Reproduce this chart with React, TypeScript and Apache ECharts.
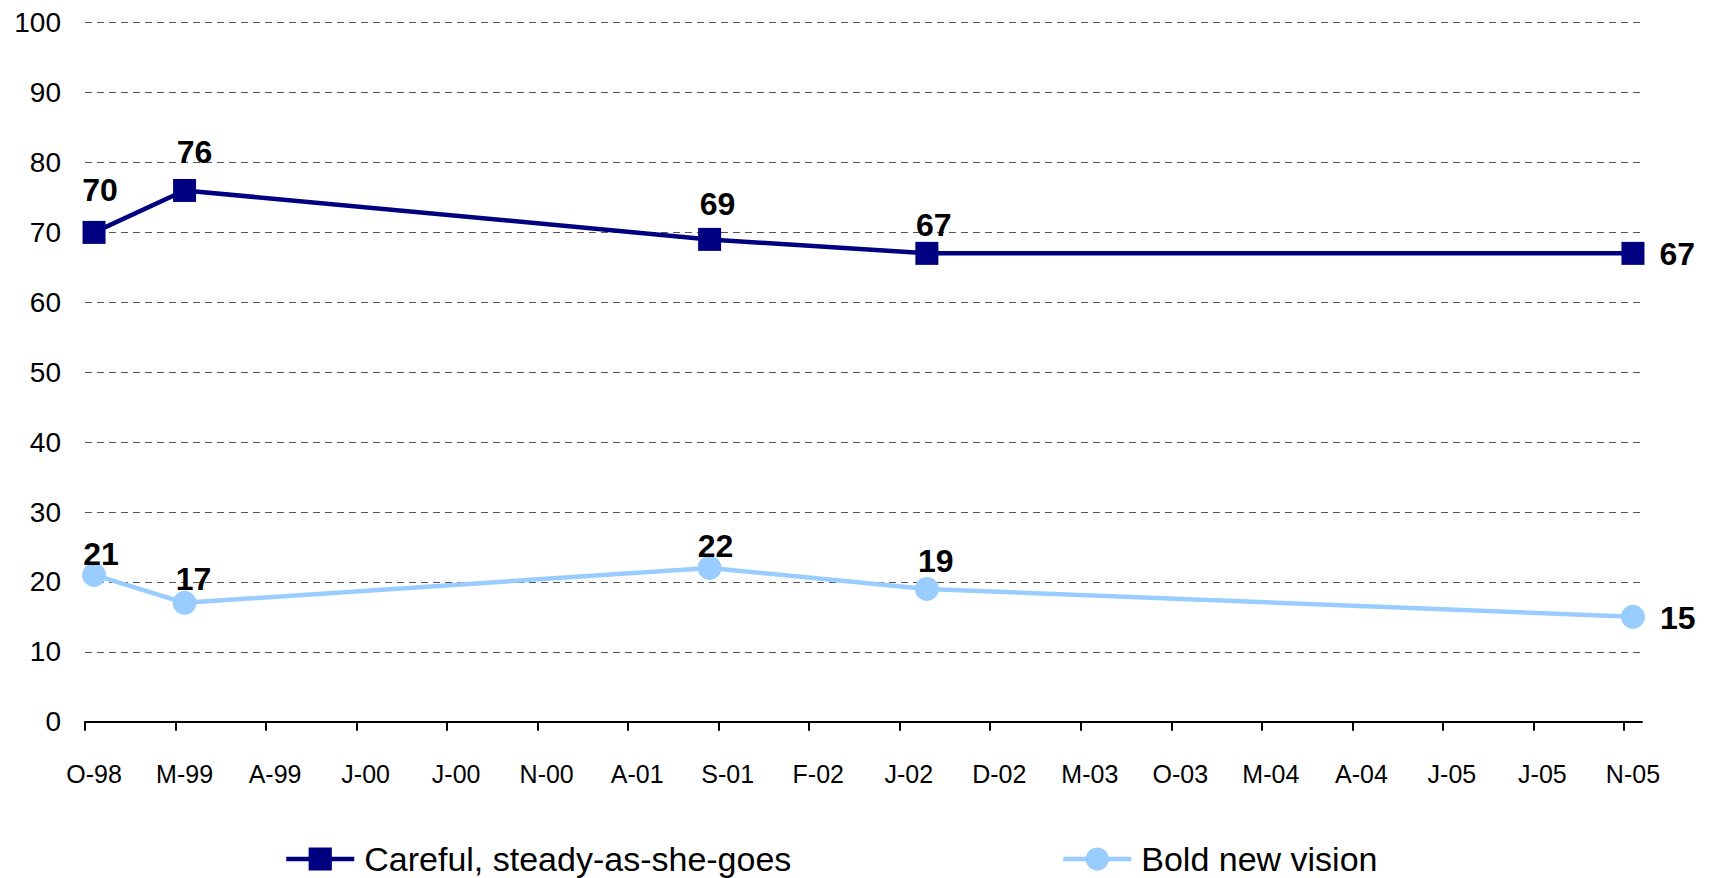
import { useEffect, useRef } from "react";
import * as echarts from "echarts";

// Axis tick labels (every 5 months, starting Oct 1998)
const tickLabels = [
  "O-98", "M-99", "A-99", "J-00", "J-00", "N-00", "A-01", "S-01", "F-02",
  "J-02", "D-02", "M-03", "O-03", "M-04", "A-04", "J-05", "J-05", "N-05",
];
// Survey months (year-month)
const surveyMonths = ["1998-10", "1999-03", "2001-08", "2002-08", "2005-11"];
const carefulValues = [70, 76, 69, 67, 67];
const boldValues = [21, 17, 22, 19, 15];
const seriesNames = ["Careful, steady-as-she-goes", "Bold new vision"];

// label nudges (style only)
const carefulNudge = [[6, -15], [10, -11], [8, -8], [7, -1], null];
const boldNudge = [[7, 7], [9, 4], [6, 6], [9, 0], null];

const FONT = "Arial, 'Liberation Sans', sans-serif";
const ORIGIN_Y = 1998;
const ORIGIN_M = 10;
const monthPos = (s: string) => {
  const [y, m] = s.split("-").map(Number);
  return (y - ORIGIN_Y) * 12 + (m - ORIGIN_M) + 0.5;
};
const xs = surveyMonths.map(monthPos);
const tickVals = tickLabels.map((_, i) => i * 5);
const labelVals = tickLabels.map((_, i) => i * 5 + 0.5);

function buildData(vals: number[], nudges: (number[] | null)[]) {
  return vals.map((v, i) => {
    const n = nudges[i];
    const label = n
      ? { position: "top", distance: 0, offset: n }
      : { position: "right", distance: 15, offset: [0, 1] };
    return { value: [xs[i], v], label };
  });
}

export default function App() {
  const ref = useRef<HTMLDivElement>(null);
  useEffect(() => {
    if (!ref.current) return;
    const chart = echarts.init(ref.current, undefined, { renderer: "svg" });
    const labelStyle = {
      show: true,
      fontFamily: FONT,
      fontSize: 32,
      fontWeight: "bold",
      color: "#000",
      lineHeight: 32,
    };
    const legendBase = {
      top: 842,
      padding: 0,
      itemWidth: 68,
      itemHeight: 29,
      lineStyle: { width: 4.5 },
      textStyle: {
        fontFamily: FONT,
        fontSize: 34,
        color: "#000",
        lineHeight: 30,
        padding: [0, 0, 0, 5],
      },
    };
    chart.setOption({
      animation: false,
      backgroundColor: "#fff",
      textStyle: { fontFamily: FONT },
      grid: { left: 85, right: 69, top: 22.7, bottom: 156.3 },
      legend: [
        { ...legendBase, left: 284, data: [seriesNames[0]] },
        { ...legendBase, left: 1061, data: [seriesNames[1]] },
      ],
      xAxis: {
        type: "value",
        min: 0,
        max: 86,
        interval: 5,
        splitLine: { show: false },
        axisLine: { show: true, lineStyle: { color: "#000", width: 2 } },
        axisTick: {
          show: true,
          customValues: tickVals,
          length: 9,
          lineStyle: { color: "#000", width: 2 },
        },
        axisLabel: {
          customValues: labelVals,
          formatter: (v: number) => tickLabels[Math.floor(v / 5)] ?? "",
          fontFamily: FONT,
          fontSize: 25,
          color: "#000",
          margin: 40,
        },
      },
      yAxis: {
        type: "value",
        min: 0,
        max: 100,
        interval: 10,
        axisLine: { show: false },
        axisTick: { show: false },
        axisLabel: { fontFamily: FONT, fontSize: 28, color: "#000", margin: 24 },
        splitLine: {
          show: true,
          lineStyle: { color: "#555", width: 1, type: [7, 5] },
        },
      },
      series: [
        {
          name: seriesNames[0],
          type: "line",
          symbol: "rect",
          symbolSize: 23,
          color: "#000080",
          lineStyle: { color: "#000080", width: 4.5 },
          itemStyle: { color: "#000080" },
          label: labelStyle,
          data: buildData(carefulValues, carefulNudge),
          z: 3,
        },
        {
          name: seriesNames[1],
          type: "line",
          symbol: "circle",
          symbolSize: 24,
          color: "#99CCFF",
          lineStyle: { color: "#99CCFF", width: 4.5 },
          itemStyle: { color: "#99CCFF" },
          label: labelStyle,
          data: buildData(boldValues, boldNudge),
          z: 2,
        },
      ],
    });
    return () => chart.dispose();
  }, []);
  return (
    <div
      ref={ref}
      style={{ position: "fixed", left: 0, top: 0, width: 1711, height: 878 }}
    />
  );
}
